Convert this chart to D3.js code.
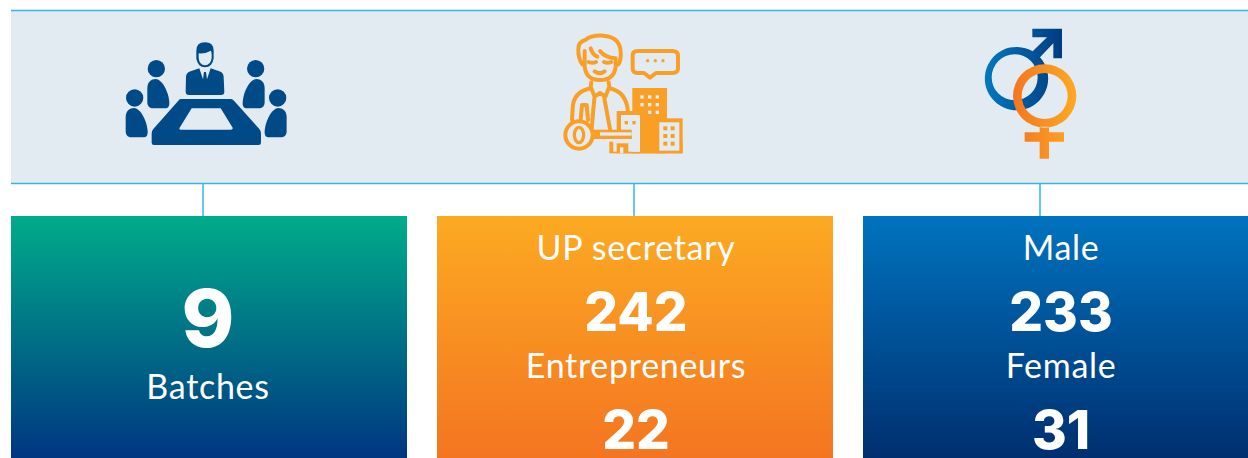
<!DOCTYPE html>
<html>
<head>
<meta charset="utf-8">
<script src="https://cdnjs.cloudflare.com/ajax/libs/d3/7.8.5/d3.min.js"></script>
<style>
  html, body { margin: 0; padding: 0; background: #fff; overflow: hidden; }
  svg { display: block; }
  text { fill: #fff; text-anchor: middle; }
  .label { font-family: Lato, "Open Sans", sans-serif; letter-spacing: 0.7px; }
  .num { font-family: Inter, Lato, sans-serif; font-weight: 800; }
</style>
</head>
<body>
<div id="chart"></div>
<script>
// Values
const categories = ["Batches", "Occupation", "Gender"];
const batchLabels = ["Batches"];
const batchValues = [9];
const occupationLabels = ["UP secretary", "Entrepreneurs"];
const occupationValues = [242, 22];
const genderLabels = ["Male", "Female"];
const genderValues = [233, 31];

const w = 1248, h = 458;
const svg = d3.select("#chart").append("svg").attr("width", w).attr("height", h);
const defs = svg.append("defs");

function gradient(id, from, to, horizontal) {
  const g = defs.append("linearGradient").attr("id", id)
    .attr("x1", 0).attr("y1", 0)
    .attr("x2", horizontal ? 1 : 0).attr("y2", horizontal ? 0 : 1);
  g.append("stop").attr("offset", "0%").attr("stop-color", from);
  g.append("stop").attr("offset", "100%").attr("stop-color", to);
}
gradient("card0", "#00ac8a", "#003682");
gradient("card1", "#fcaa22", "#f47521");
gradient("card2", "#0073bf", "#002f6f");
gradient("maleGrad", "#0078bf", "#003c80", true);
gradient("femaleGrad", "#f47521", "#fcaa22", true);

// card columns, third one runs off the right edge
const x = d3.scaleBand().domain(categories).range([11, 1259]).paddingInner(30 / 426).paddingOuter(0);

// top band
const bandBg = "#e3ebf2";
svg.append("rect").attr("x", 11).attr("y", 10).attr("width", w - 11).attr("height", 173).attr("fill", bandBg);
svg.selectAll("line.rule").data([10.5, 183.5]).enter().append("line").attr("class", "rule")
  .attr("x1", 11).attr("x2", w).attr("y1", d => d).attr("y2", d => d)
  .attr("stroke", "#33b6ee").attr("stroke-width", 1.5);

// connectors from band to cards
svg.selectAll("line.link").data([203, 634, 1040]).enter().append("line").attr("class", "link")
  .attr("x1", d => d).attr("x2", d => d).attr("y1", 183).attr("y2", 216)
  .attr("stroke", "#33b6ee").attr("stroke-width", 1.5);

// cards
svg.selectAll("rect.card").data(categories).enter().append("rect").attr("class", "card")
  .attr("x", d => x(d)).attr("y", 216).attr("width", x.bandwidth()).attr("height", 242)
  .attr("fill", (d, i) => `url(#card${i})`);

const labelSize = 34, numSize = 53;
function cardText(labels, values, cx) {
  labels.forEach((l, i) => {
    const top = 260 + i * 118;
    svg.append("text").attr("class", "label").attr("x", cx).attr("y", top).attr("font-size", labelSize).text(l);
    svg.append("text").attr("class", "num").attr("x", cx).attr("y", top + 71).attr("font-size", numSize).text(values[i]);
  });
}
// the single-value card is laid out differently
svg.append("text").attr("class", "num").attr("x", x("Batches") + 197).attr("y", 347).attr("font-size", 80).text(batchValues[0]);
svg.append("text").attr("class", "label").attr("x", x("Batches") + 197).attr("y", 399).attr("font-size", labelSize).text(batchLabels[0]);
cardText(occupationLabels, occupationValues, x("Occupation") + 199);
cardText(genderLabels, genderValues, x("Gender") + 198);

// icon 1: meeting table (drawn in 3x crop units)
const navy = "#004b87";
const meet = svg.append("g").attr("transform", "translate(100,30) scale(0.3333)");
meet.append("path").attr("fill", navy).attr("fill-rule", "evenodd")
  .attr("d", "M242,207 L393,207 Q398,207 402,212 L478,297 Q483,302 483,310 L483,338 Q483,345 476,345 L162,345 Q155,345 155,338 L155,310 Q155,302 160,297 L235,212 Q238,207 242,207 Z M275,235 L362,235 L398,293 Q399,299 393,299 L243,299 Q236,299 239,293 Z");
function person(cx, cy, by, flip) {
  const p = meet.append("g").attr("transform", `translate(${cx},0) scale(${flip ? -1 : 1},1)`);
  p.append("circle").attr("cy", cy).attr("r", 26).attr("fill", navy);
  p.append("path").attr("fill", navy)
    .attr("d", `M-27,${by + 28} C-27,${by + 8} -15,${by} -2,${by} C16,${by} 38,${by + 38} 39,${by + 72} C39,${by + 84} 34,${by + 88} 26,${by + 88} L-10,${by + 88} C-22,${by + 88} -27,${by + 80} -27,${by + 70} Z`);
}
person(169, 116, 147, false);
person(104, 204, 234, false);
person(467, 116, 147, true);
person(533, 204, 234, true);
// man at the head of the table
meet.append("path").attr("fill", navy)
  .attr("d", "M258,140 Q259,128 272,124 L298,115 L309,148 L312,126 L318,126 L321,148 L332,115 L358,124 Q370,128 371,140 L373,185 Q373,195 363,195 L267,195 Q257,195 257,185 Z");
meet.append("path").attr("fill", navy)
  .attr("d", "M289,62 Q289,37 315,37 Q341,37 341,62 L341,85 Q337,112 315,112 Q293,112 289,85 Z");
meet.append("path").attr("fill", bandBg)
  .attr("d", "M296,70 Q315,72 333,62 Q336,70 335,84 Q332,106 315,106 Q298,106 296,84 Z");

// icon 2: man, key and buildings (3x crop units)
const orange = "#fa9f25";
const biz = svg.append("g").attr("transform", "translate(550,25) scale(0.3333)");
function block(color, rects) {
  rects.forEach(r => biz.append("rect").attr("x", r[0]).attr("y", r[1]).attr("width", r[2]).attr("height", r[3]).attr("fill", color));
}
const outline = biz.append("g").attr("fill", "none").attr("stroke", orange).attr("stroke-width", 12)
  .attr("stroke-linecap", "round").attr("stroke-linejoin", "round");
// head
outline.append("path").attr("d", "M97,118 Q84,100 85,72 Q85,50 106,45 Q122,30 160,32 Q210,36 212,80 Q214,105 205,118");
outline.append("path").attr("d", "M104,78 L104,125 Q108,165 150,165 Q192,165 197,125 L197,100 Q165,98 150,78 M122,70 Q128,90 142,95");
outline.append("path").attr("d", "M116,111 Q127,116 138,111 M162,111 Q173,116 184,111");
outline.append("path").attr("d", "M134,139 Q149,150 164,139");
// shirt, collar, tie, arms
outline.append("path").attr("d", "M124,172 L122,185 L134,215 L150,204 L166,215 L178,185 L176,172");
outline.append("path").attr("d", "M122,190 Q70,200 68,250 L66,285 M178,190 Q230,200 234,262");
outline.append("path").attr("d", "M92,285 L96,240 L110,240 L114,285");
outline.append("path").attr("d", "M133,220 L125,312 M163,220 L180,312");
// speech bubble
outline.append("path").attr("d", "M262,78 Q248,78 248,92 L248,130 Q248,144 262,144 L282,144 L300,158 L318,144 L368,144 Q384,144 384,130 L384,92 Q384,78 368,78 Z");
[[293, 107], [316, 107], [339, 107]].forEach(c =>
  biz.append("circle").attr("cx", c[0]).attr("cy", c[1]).attr("r", 5).attr("fill", orange));
// buildings
block(orange, [[247, 189, 104, 196], [200, 258, 70, 127], [320, 280, 78, 105], [178, 350, 220, 35]]);
block(bandBg, [[213, 270, 57, 50], [245, 315, 25, 65], [190, 342, 80, 13], [190, 342, 10, 38], [235, 342, 35, 38], [210, 367, 10, 18], [328, 292, 60, 85]]);
// key shaft over the building
block(orange, [[125, 314, 120, 28]]);
block(bandBg, [[150, 322, 95, 10]]);
block(bandBg, [[271, 211, 10, 10], [294, 211, 10, 10], [317, 211, 10, 10], [271, 234, 10, 10], [294, 234, 10, 10], [317, 234, 10, 10], [294, 257, 10, 10], [317, 257, 10, 10]]);
block(orange, [[224, 288, 10, 10], [247, 288, 10, 10]]);
block(orange, [[340, 304, 12, 12], [362, 304, 12, 12], [340, 327, 12, 12], [362, 327, 12, 12], [340, 350, 12, 12], [362, 350, 12, 12]]);
// key bow
biz.append("circle").attr("cx", 87).attr("cy", 330).attr("r", 41).attr("fill", bandBg).attr("stroke", orange).attr("stroke-width", 12);
biz.append("ellipse").attr("cx", 87).attr("cy", 330).attr("rx", 14).attr("ry", 23).attr("fill", "none").attr("stroke", orange).attr("stroke-width", 10);

// icon 3: gender symbols (3x crop units)
const sex = svg.append("g").attr("transform", "translate(970,20) scale(0.3333)");
sex.append("path").attr("fill", "url(#maleGrad)").attr("fill-rule", "evenodd")
  .attr("d", "M187,26 L276,26 L276,115 L250,115 L250,70 L210,112 A95,95 0 1 1 188,94 L231,52 L187,52 Z M134,103 A69,69 0 1 0 134,241 A69,69 0 1 0 134,103 Z");
sex.append("path").attr("fill", "url(#femaleGrad)").attr("fill-rule", "evenodd")
  .attr("d", "M224,133 A95,95 0 1 1 224,323 A95,95 0 1 1 224,133 Z M224,159 A69,69 0 1 0 224,297 A69,69 0 1 0 224,159 Z M209,320 L237,320 L237,337 L282,337 L282,365 L237,365 L237,416 L209,416 L209,365 L164,365 L164,337 L209,337 Z");
</script>
</body>
</html>
